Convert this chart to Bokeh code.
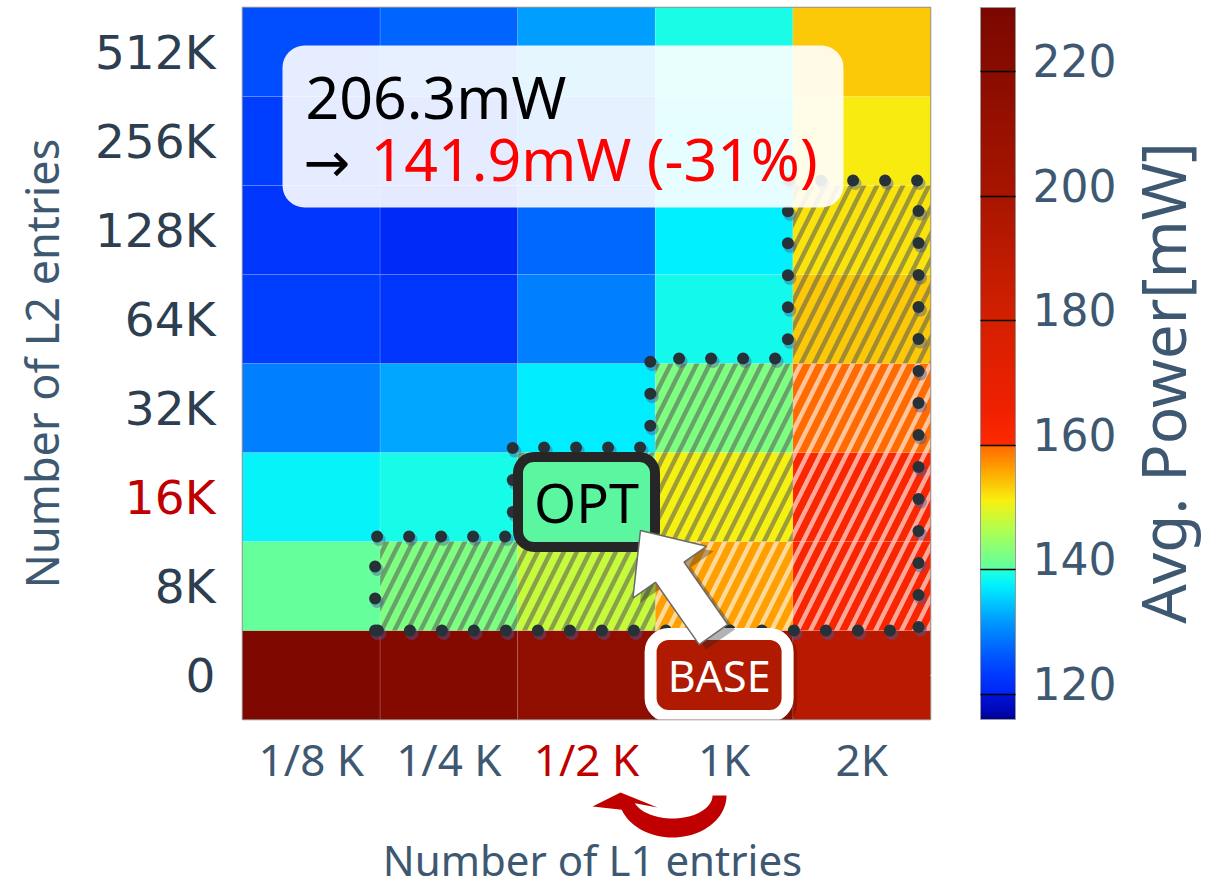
import numpy as np
from bokeh.plotting import figure
from bokeh.models import (ColumnDataSource, LinearColorMapper, ColorBar, FixedTicker,
                          Label, BoxAnnotation, LinearAxis)
from bokeh.core.properties import value
from bokeh.embed import file_html
from bokeh.resources import INLINE

# ---------------- data ----------------
l1_labels = ["1/8 K", "1/4 K", "1/2 K", "1K", "2K"]
l2_labels = ["0", "8K", "16K", "32K", "64K", "128K", "256K", "512K"]

# average power [mW]; one list per L2 size, values ordered by L1 size
power_0    = [227.0, 224.0, 216.0, 206.3, 193.0]
power_8k   = [140.6, 142.6, 148.0, 156.3, 162.5]
power_16k  = [138.0, 139.2, 141.9, 150.8, 162.0]
power_32k  = [129.6, 132.6, 137.2, 142.6, 159.9]
power_64k  = [123.6, 122.7, 129.6, 139.0, 153.7]
power_128k = [122.7, 120.9, 127.5, 137.5, 151.8]
power_256k = [123.6, 123.6, 128.6, 138.0, 151.5]
power_512k = [125.4, 127.3, 132.1, 139.4, 153.7]

base_cfg = ("1K", "0")
opt_cfg = ("1/2 K", "16K")
base_power = 206.3
opt_power = 141.9

# explored (hatched) region: L1 sizes and the largest L2 size explored, from 8K up
region_l1 = ["1/4 K", "1/2 K", "1K", "2K"]
region_top_l2 = ["8K", "16K", "32K", "128K"]
region_bottom_l2 = "8K"

cbar_ticks = [120, 140, 160, 180, 200, 220]
cbar_low, cbar_high = 116.0, 230.3

x_title = "Number of L1 entries"
y_title = "Number of L2 entries"
c_title = "Avg. Power[mW]"

# ---------------- colour map (jet-like, with steps at 120/140/160) ----------------
cmap_stops = [(116.0, "#00008c"), (117.5, "#0008b8"), (119.95, "#0014d8"), (120.0, "#0024f4"),
              (123.0, "#0038ff"), (126.3, "#0058ff"), (131.6, "#0098ff"), (137.5, "#00f0ff"),
              (139.95, "#20ffe0"), (140.0, "#5cffa4"), (146.5, "#b0ff50"), (151.1, "#f8f010"),
              (156.3, "#ffa000"), (159.95, "#ff6a00"), (160.0, "#ff2a00"), (165.7, "#f02000"),
              (180.0, "#d42000"), (200.0, "#a81500"), (220.0, "#8a0c00"), (230.3, "#7a0800")]


def hex2rgb(h):
    return [int(h[i:i + 2], 16) for i in (1, 3, 5)]


sv = np.array([s[0] for s in cmap_stops])
sc = np.array([hex2rgb(s[1]) for s in cmap_stops], dtype=float)
NPAL = 460
centers = cbar_low + (np.arange(NPAL) + 0.5) * (cbar_high - cbar_low) / NPAL
palette = []
for g in centers:
    rgb = [int(round(np.interp(g, sv, sc[:, k]))) for k in range(3)]
    palette.append("#%02x%02x%02x" % tuple(rgb))
mapper = LinearColorMapper(palette=palette, low=cbar_low, high=cbar_high)

# ---------------- figure ----------------
FRAME_W, FRAME_H = 688, 712
FRAME_L, FRAME_B = 242, 719
NX, NY = len(l1_labels), len(l2_labels)
PX_X, PX_Y = FRAME_W / NX, FRAME_H / NY


def px2d(dx, dy):
    """screen-pixel offset (y down) -> data offset"""
    return dx / PX_X, -dy / PX_Y


def sx2d(sx):
    return (sx - FRAME_L) / PX_X


def sy2d(sy):
    return (FRAME_B - sy) / PX_Y


p = figure(width=1209, height=888, x_range=(0, NX), y_range=(0, NY),
           output_backend="svg", toolbar_location=None,
           min_border_left=242, min_border_right=279, min_border_top=7, min_border_bottom=169)
p.grid.visible = False
p.outline_line_color = "#8c8c8c"
p.outline_line_width = 1.5
p.background_fill_color = "white"

rows = [power_0, power_8k, power_16k, power_32k, power_64k, power_128k, power_256k, power_512k]
xs, ys, vs = [], [], []
for r, row in enumerate(rows):
    for c, v in enumerate(row):
        xs.append(c + 0.5)
        ys.append(r + 0.5)
        vs.append(v)
src = ColumnDataSource(dict(x=xs, y=ys, v=vs))
p.rect(x="x", y="y", width=1, height=1, source=src,
       fill_color={"field": "v", "transform": mapper},
       line_color="white", line_alpha=0.12, line_width=1)

# ---------------- hatched region ----------------
ci = [l1_labels.index(c) for c in region_l1]
tops = [l2_labels.index(t) + 1 for t in region_top_l2]
bottom = l2_labels.index(region_bottom_l2)
hx, hy, hcol, halpha = [], [], [], []
for k, c in enumerate(ci):
    for r in range(bottom, tops[k]):
        hx.append(c + 0.5)
        hy.append(r + 0.5)
        light = rows[r][c] > 154.5
        hcol.append("#ffffff" if light else "#555555")
        halpha.append(0.6 if light else 0.55)
hsrc = ColumnDataSource(dict(x=hx, y=hy, hc=hcol, ha=halpha))
p.rect(x="x", y="y", width=1, height=1, source=hsrc, fill_alpha=0, line_alpha=0,
       hatch_pattern="/", hatch_scale=26, hatch_weight=4.5,
       hatch_color="hc", hatch_alpha="ha")

# dotted outline of the region
ox, oy = px2d(-5, -5)
outline_x = [ci[0] + ox, ci[0] + ox]
outline_y = [bottom, tops[0] + oy]
for k in range(len(ci) - 1):
    outline_x += [ci[k + 1] + ox, ci[k + 1] + ox]
    outline_y += [tops[k] + oy, tops[k + 1] + oy]
right = ci[-1] + 1 + px2d(-12, 0)[0]
outline_x += [right, right, ci[0] + ox]
outline_y += [tops[-1] + oy, bottom, bottom]
sdx, sdy = px2d(2, 3)
p.line([x + sdx for x in outline_x], [y + sdy for y in outline_y], line_color="#4a5a9a",
       line_alpha=0.45, line_width=13, line_cap="round", line_dash="0 32")
p.line(outline_x, outline_y, line_color="#263238", line_width=12,
       line_cap="round", line_dash="0 32")

# ---------------- BASE / OPT markers ----------------
bx = l1_labels.index(base_cfg[0]) + 0.5 + px2d(-5, 0)[0]
by = l2_labels.index(base_cfg[1]) + 0.5
okx = l1_labels.index(opt_cfg[0]) + 0.5
oky = l2_labels.index(opt_cfg[1]) + 0.5 + px2d(0, 5)[1]

sx_, sy_ = px2d(3, 4)
p.rect(x=[bx + sx_], y=[by + sy_], width=150, height=95, width_units="screen", height_units="screen",
       fill_color="#000000", fill_alpha=0.18, line_color=None, border_radius=22)
p.rect(x=[bx], y=[by], width=137, height=82, width_units="screen", height_units="screen",
       fill_color="#b01a00", line_color="white", line_width=12, border_radius=18)
p.rect(x=[okx], y=[oky], width=137, height=90, width_units="screen", height_units="screen",
       fill_color="#5cf5a0", line_color="#262626", line_width=10, border_radius=16)

# big white arrow BASE -> OPT
tail = (l1_labels.index(base_cfg[0]) + 0.423, l2_labels.index(base_cfg[1]) + 0.955)
tip = (l1_labels.index(opt_cfg[0]) + 0.892, l2_labels.index(opt_cfg[1]) + 0.124)
tpx = np.array([tail[0] * PX_X, -tail[1] * PX_Y])
ppx = np.array([tip[0] * PX_X, -tip[1] * PX_Y])
u = (ppx - tpx) / np.linalg.norm(ppx - tpx)
n = np.array([-u[1], u[0]])
shaft_w, head_w, head_l = 35, 90, 51
B = ppx - u * head_l
pts = [tpx + n * shaft_w / 2, B + n * shaft_w / 2, B + n * head_w / 2, ppx,
       B - n * head_w / 2, B - n * shaft_w / 2, tpx - n * shaft_w / 2]
ax = [q[0] / PX_X for q in pts]
ay = [-q[1] / PX_Y for q in pts]
shx, shy = px2d(7, 5)
p.patch([x + shx for x in ax], [y + shy for y in ay], fill_color="#222222", fill_alpha=0.35,
        line_color=None)
p.patch(ax, ay, fill_color="white", line_color="#6b6b6b", line_width=1.5)

p.add_layout(Label(x=okx, y=oky, text="OPT", text_align="center", text_baseline="middle",
                   text_font="Noto Sans", text_font_size="54px", text_color="black"))
p.add_layout(Label(x=bx, y=by, text="BASE", text_align="center", text_baseline="middle",
                   text_font="Noto Sans", text_font_size="43px", text_color="white"))

# ---------------- annotation box ----------------
p.add_layout(BoxAnnotation(left=sx2d(282), right=sx2d(843), top=sy2d(45), bottom=sy2d(207),
                           fill_color="white", fill_alpha=0.9, line_color=None, border_radius=22))
p.add_layout(Label(x=sx2d(305), y=sy2d(95.7), text=f"{base_power}mW", text_align="left",
                   text_baseline="middle", text_font="Noto Sans", text_font_size="59px",
                   text_color="black"))
p.add_layout(Label(x=sx2d(303), y=sy2d(162), text="\u2192", text_align="left",
                   text_baseline="middle", text_font="DejaVu Sans", text_font_size="56px",
                   text_color="black"))
pct = round((opt_power - base_power) / base_power * 100)
p.add_layout(Label(x=sx2d(370), y=sy2d(157.7), text=f"{opt_power}mW ({pct}%)", text_align="left",
                   text_baseline="middle", text_font="Noto Sans", text_font_size="59px",
                   text_color="#ff0000"))

# ---------------- axes ----------------
xticks = [i + 0.5 for i in range(NX)]
yticks = [i + 0.5 for i in range(NY)]
XSTAND, YSTAND = 9, 27
p.xaxis.ticker = FixedTicker(ticks=xticks)
p.xaxis.major_label_overrides = {t: ("" if lab == opt_cfg[0] else lab) for t, lab in zip(xticks, l1_labels)}
p.yaxis.ticker = FixedTicker(ticks=yticks)
p.yaxis.major_label_overrides = {t: ("" if lab == opt_cfg[1] else lab) for t, lab in zip(yticks, l2_labels)}
for ax_ in (p.xaxis, p.yaxis):
    ax_.axis_line_color = None
    ax_.major_tick_line_color = None
    ax_.minor_tick_line_color = None
    ax_.major_tick_out = 0
    ax_.major_tick_in = 0
    ax_.axis_label_text_font = "Noto Sans"
    ax_.axis_label_text_font_style = "normal"
    ax_.axis_label_text_color = "#3e5872"
p.xaxis.major_label_standoff = XSTAND
p.xaxis.major_label_text_font = "Noto Sans"
p.xaxis.major_label_text_font_size = "44px"
p.xaxis.major_label_text_color = "#3e5872"
p.yaxis.major_label_standoff = YSTAND
p.yaxis.major_label_text_font = "DejaVu Sans"
p.yaxis.major_label_text_font_size = "47px"
p.yaxis.major_label_text_color = "#2c3e50"
p.yaxis.axis_label = y_title
p.yaxis.axis_label_text_font_size = "45px"
p.yaxis.axis_label_standoff = 20

# x-axis title (drawn as overlay text so it can sit below the curved arrow)
p.text(x=[NX / 2], y=[0], text=[x_title], x_offset=6, y_offset=140,
       text_align="center", text_baseline="middle", text_font=value("Noto Sans"),
       text_font_size="42px", text_color="#3e5872", level="overlay")

# highlighted tick labels (red), drawn as overlay text so they may sit outside the frame
p.text(x=[l1_labels.index(opt_cfg[0]) + 0.5], y=[0], text=[opt_cfg[0]], y_offset=XSTAND,
       text_align="center", text_baseline="top", text_font=value("Noto Sans"),
       text_font_size="44px", text_color="#c00000", level="overlay")
p.text(x=[0], y=[l2_labels.index(opt_cfg[1]) + 0.5], text=[opt_cfg[1]], x_offset=-YSTAND,
       text_align="right", text_baseline="middle", text_font=value("DejaVu Sans"),
       text_font_size="47px", text_color="#c00000", level="overlay")

# curved red arrow (1K -> 1/2 K) under the x axis
cx = (l1_labels.index(base_cfg[0]) + l1_labels.index(opt_cfg[0])) / 2 + 0.5 + 0.125
cy = px2d(0, 76)[1]
th = np.linspace(0, np.radians(160), 40)
outer = [(54 * np.cos(t), 42 * np.sin(t)) for t in th]
inner = [(40 * np.cos(t), 23 * np.sin(t)) for t in th[::-1]]
head = [(592 - 672, 806 - 795), (620 - 672, 792 - 795), (657 - 672, 807 - 795)]
poly = outer + head + inner
p.patch([cx + px2d(a, b)[0] for a, b in poly], [cy + px2d(a, b)[1] for a, b in poly],
        fill_color="#c00000", line_color=None, level="overlay")

# ---------------- colour bar ----------------
spacer = LinearAxis(ticker=FixedTicker(ticks=[0.5]), major_label_overrides={0.5: " "},
                    axis_line_color=None, major_tick_out=47, major_tick_in=0,
                    major_tick_line_color="white", minor_tick_line_color=None,
                    major_label_standoff=0, major_label_text_font_size="1px",
                    major_label_text_color="white")
p.add_layout(spacer, "right")
cb = ColorBar(color_mapper=mapper, ticker=FixedTicker(ticks=cbar_ticks), width=35,
              padding=0, margin=0, label_standoff=20,
              major_label_overrides={t: "" for t in cbar_ticks},
              major_label_text_font="DejaVu Sans", major_label_text_font_size="43px",
              major_label_text_color="#3e5872",
              major_tick_in=35, major_tick_out=0, major_tick_line_color="black",
              major_tick_line_width=1.5, minor_tick_line_color=None,
              bar_line_color="#999999", bar_line_width=1, border_line_color=None,
              background_fill_alpha=0)
p.add_layout(cb, "right")
# colour-bar tick labels (the reference draws them a little above their tick marks)
cb_y = [(t - cbar_low) / (cbar_high - cbar_low) * NY for t in cbar_ticks]
p.text(x=[sx2d(1032)] * len(cbar_ticks), y=cb_y, text=[str(t) for t in cbar_ticks], y_offset=-11,
       text_align="left", text_baseline="middle", text_font=value("DejaVu Sans"),
       text_font_size="44px", text_color="#3e5872", level="overlay")
p.text(x=[sx2d(1161.5)], y=[sy2d(382.5)], text=[c_title],
       angle=np.pi / 2, text_align="center", text_baseline="middle",
       text_font=value("Noto Sans"), text_font_size="62px", text_color="#3e5872", level="overlay")

open("out.html", "w").write(file_html(p, INLINE))
